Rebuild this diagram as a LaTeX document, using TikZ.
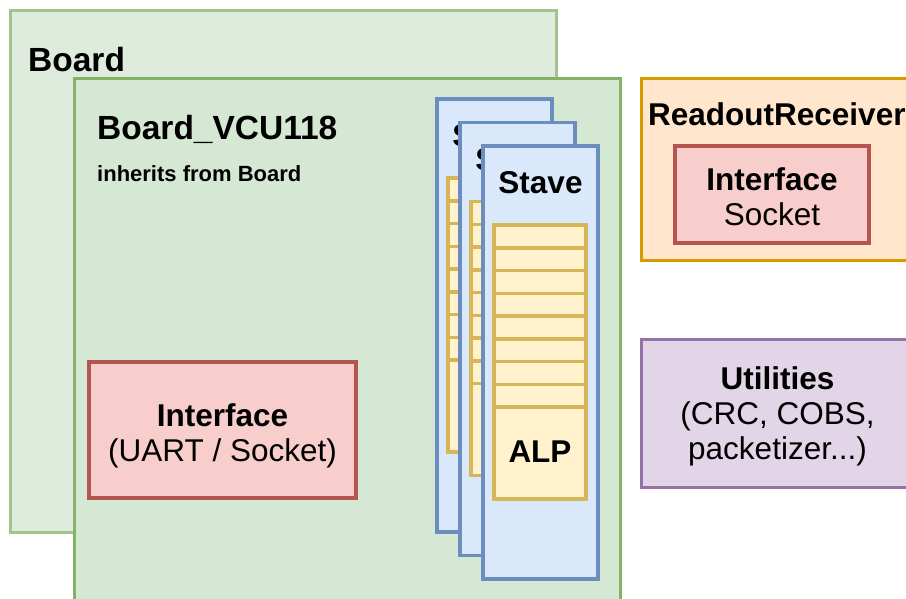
\documentclass[tikz,border=0pt]{standalone}
\usepackage{fontspec}
\setmainfont{Liberation Sans}
\definecolor{bfillA}{HTML}{DFEBDC}
\definecolor{bdrawA}{HTML}{A0C68B}
\definecolor{bfill}{HTML}{D5E8D4}
\definecolor{bdraw}{HTML}{82B366}
\definecolor{sfill}{HTML}{DAE8FC}
\definecolor{sdraw}{HTML}{6C8EBF}
\definecolor{afill}{HTML}{FFF2CC}
\definecolor{adraw}{HTML}{D6B656}
\definecolor{ifill}{HTML}{F8CECC}
\definecolor{idraw}{HTML}{B85450}
\definecolor{rfill}{HTML}{FFE6CC}
\definecolor{rdraw}{HTML}{D79B00}
\definecolor{ufill}{HTML}{E1D5E7}
\definecolor{udraw}{HTML}{9673A6}
\tikzset{
  boardbox/.style={fill=bfill,draw=bdraw,line width=3pt},
  oldboard/.style={fill=bfillA,draw=bdrawA,line width=3pt},
  stavebox/.style={fill=sfill,draw=sdraw,line width=3.5pt},
  rowbox/.style={fill=afill,draw=adraw,line width=3.5pt},
  ifbox/.style={fill=ifill,draw=idraw,line width=3.5pt},
  rrbox/.style={fill=rfill,draw=rdraw,line width=3pt},
  utbox/.style={fill=ufill,draw=udraw,line width=3pt},
  big/.style={font=\fontsize{31.5}{35}\selectfont, inner sep=0pt},
  bigb/.style={font=\fontsize{31.5}{35}\selectfont\bfseries, inner sep=0pt},
  title/.style={font=\fontsize{33.5}{38}\selectfont\bfseries, inner sep=0pt},
  small/.style={font=\fontsize{22}{26}\selectfont\bfseries, inner sep=0pt},
}
\newcommand{\stavedraw}[4]{%
  % #1 x offset, #2 y offset, #3 name, #4 show ALP label (1/0)
  \begin{scope}[shift={(#1,#2)}]
    \draw[stavebox] (437,99) rectangle (552,532);
    \node[bigb] (#3lbl) at (494.5,136) {Stave};
    \foreach \i in {0,...,7}{
      \draw[rowbox] (448,{178+\i*22.75}) rectangle (540,{178+(\i+1)*22.75});
    }
    \draw[rowbox] (448,360) rectangle (540,452);
    \ifnum#4=1 \node[bigb] (#3alp) at (494,405) {ALP};\fi
  \end{scope}}
\begin{document}
\begin{tikzpicture}[x=1pt,y=-1pt]
\useasboundingbox (0,0) rectangle (906,598);
\clip (0,0) rectangle (906,598);
% Board
\draw[oldboard] (10,10) rectangle (556,532);
\node[title,anchor=base west] (boardlbl) at (28,71) {Board};
% Board_VCU118
\draw[boardbox] (74,78) rectangle (620,610);
\node[title,anchor=base west] (vculbl) at (97,139) {Board\_VCU118};
\node[small,anchor=base west] (inh) at (97,181) {inherits from Board};
% Interface
\draw[ifbox] (89,362) rectangle (356,498);
\node[bigb,anchor=base] (if1) at (222.5,426) {Interface};
\node[big,anchor=base] (if2) at (222.5,461) {(UART / Socket)};
% Staves
\stavedraw{0}{0}{sa}{0}
\stavedraw{23}{23.5}{sb}{0}
\stavedraw{46}{47}{sc}{1}
% ReadoutReceiver
\draw[rrbox] (641,78) rectangle (915,260);
\node[bigb,anchor=base west] (rrlbl) at (648,125) {ReadoutReceiver};
\draw[ifbox] (675,146) rectangle (869,243);
\node[bigb,anchor=base] (rif1) at (772,190) {Interface};
\node[big,anchor=base] (rif2) at (772,225) {Socket};
% Utilities
\draw[utbox] (641,339) rectangle (915,487);
\node[bigb,anchor=base] (ut1) at (777.5,389) {Utilities};
\node[big,anchor=base] (ut2) at (777.5,424) {(CRC, COBS,};
\node[big,anchor=base] (ut3) at (777.5,459) {packetizer...)};
\end{tikzpicture}
\end{document}
